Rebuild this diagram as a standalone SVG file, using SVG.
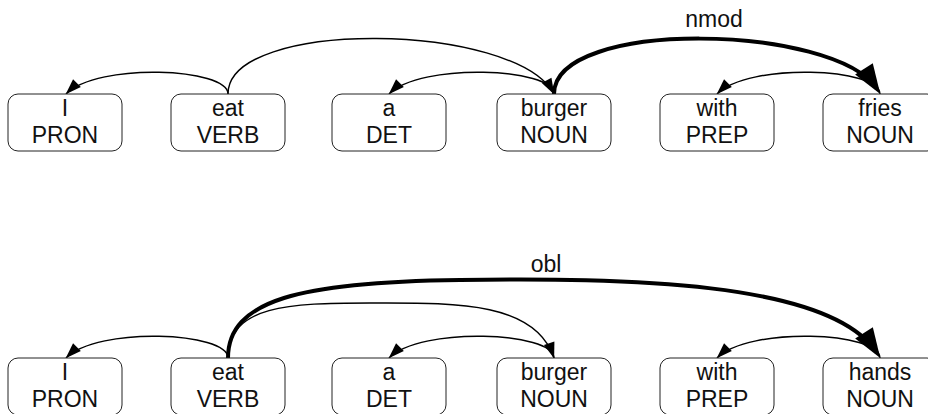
<svg xmlns="http://www.w3.org/2000/svg" width="928" height="414" viewBox="0 0 928 414">
<style>
.box{fill:#fff;stroke:#222;stroke-width:1}
.t{font-family:"Liberation Sans",Arial,sans-serif;font-size:23px;fill:#111;text-anchor:middle}
.e{fill:none;stroke:#000;stroke-width:1.4}
.ek{fill:none;stroke:#000;stroke-width:4}
</style>
<defs>
<marker id="ah" markerUnits="userSpaceOnUse" viewBox="0 0 16 11" markerWidth="16" markerHeight="11" refX="15.5" refY="5.5" orient="auto" overflow="visible"><path d="M0,0 L16,5.5 L0,11 Z" fill="#000"/></marker>
<marker id="ahk" markerUnits="userSpaceOnUse" viewBox="0 0 30 21" markerWidth="30" markerHeight="21" refX="24" refY="10.5" orient="auto" overflow="visible"><path d="M0,0 L30,10.5 L0,21 Z" fill="#000"/></marker>
</defs>
<rect width="928" height="414" fill="#fff"/>
<g id="connectors">
<path class="e" d="M228,94 C228,68 98,62 66,94" marker-end="url(#ah)"/>
<path class="e" d="M228,94 C228,18 515,22 554,94" marker-end="url(#ah)"/>
<path class="e" d="M554,94 C554,68 421,62 389,94" marker-end="url(#ah)"/>
<path class="ek" d="M554,94 C554,18 835,24 877,89" marker-end="url(#ahk)"/>
<path class="e" d="M880,94 C880,68 749,62 717,94" marker-end="url(#ah)"/>
<path class="e" d="M228,358 C228,332 98,326 66,358" marker-end="url(#ah)"/>
<path class="e" d="M228,358 C228,305 290,303 370,303 C450,303 535,300 554,358" marker-end="url(#ah)"/>
<path class="e" d="M554,358 C554,332 421,326 389,358" marker-end="url(#ah)"/>
<path class="ek" d="M228,358 C228,300 300,282 460,280 C620,278 830,280 877,353" marker-end="url(#ahk)"/>
<path class="e" d="M880,358 C880,332 749,326 717,358" marker-end="url(#ah)"/>
<text class="t" x="714" y="27">nmod</text>
<text class="t" x="546" y="272">obl</text>
</g>
<g id="n1"><rect class="box" x="8" y="94" width="114" height="57" rx="10"/><text class="t" x="65" y="116">I</text><text class="t" x="65" y="143">PRON</text></g>
<g id="n2"><rect class="box" x="171" y="94" width="114" height="57" rx="10"/><text class="t" x="228" y="116">eat</text><text class="t" x="228" y="143">VERB</text></g>
<g id="n3"><rect class="box" x="332" y="94" width="114" height="57" rx="10"/><text class="t" x="389" y="116">a</text><text class="t" x="389" y="143">DET</text></g>
<g id="n4"><rect class="box" x="497" y="94" width="114" height="57" rx="10"/><text class="t" x="554" y="116">burger</text><text class="t" x="554" y="143">NOUN</text></g>
<g id="n5"><rect class="box" x="660" y="94" width="114" height="57" rx="10"/><text class="t" x="717" y="116">with</text><text class="t" x="717" y="143">PREP</text></g>
<g id="n6"><rect class="box" x="823" y="94" width="114" height="57" rx="10"/><text class="t" x="880" y="116">fries</text><text class="t" x="880" y="143">NOUN</text></g>
<g id="m1"><rect class="box" x="8" y="358" width="114" height="57" rx="10"/><text class="t" x="65" y="380">I</text><text class="t" x="65" y="407">PRON</text></g>
<g id="m2"><rect class="box" x="171" y="358" width="114" height="57" rx="10"/><text class="t" x="228" y="380">eat</text><text class="t" x="228" y="407">VERB</text></g>
<g id="m3"><rect class="box" x="332" y="358" width="114" height="57" rx="10"/><text class="t" x="389" y="380">a</text><text class="t" x="389" y="407">DET</text></g>
<g id="m4"><rect class="box" x="497" y="358" width="114" height="57" rx="10"/><text class="t" x="554" y="380">burger</text><text class="t" x="554" y="407">NOUN</text></g>
<g id="m5"><rect class="box" x="660" y="358" width="114" height="57" rx="10"/><text class="t" x="717" y="380">with</text><text class="t" x="717" y="407">PREP</text></g>
<g id="m6"><rect class="box" x="823" y="358" width="114" height="57" rx="10"/><text class="t" x="880" y="380">hands</text><text class="t" x="880" y="407">NOUN</text></g>
</svg>
